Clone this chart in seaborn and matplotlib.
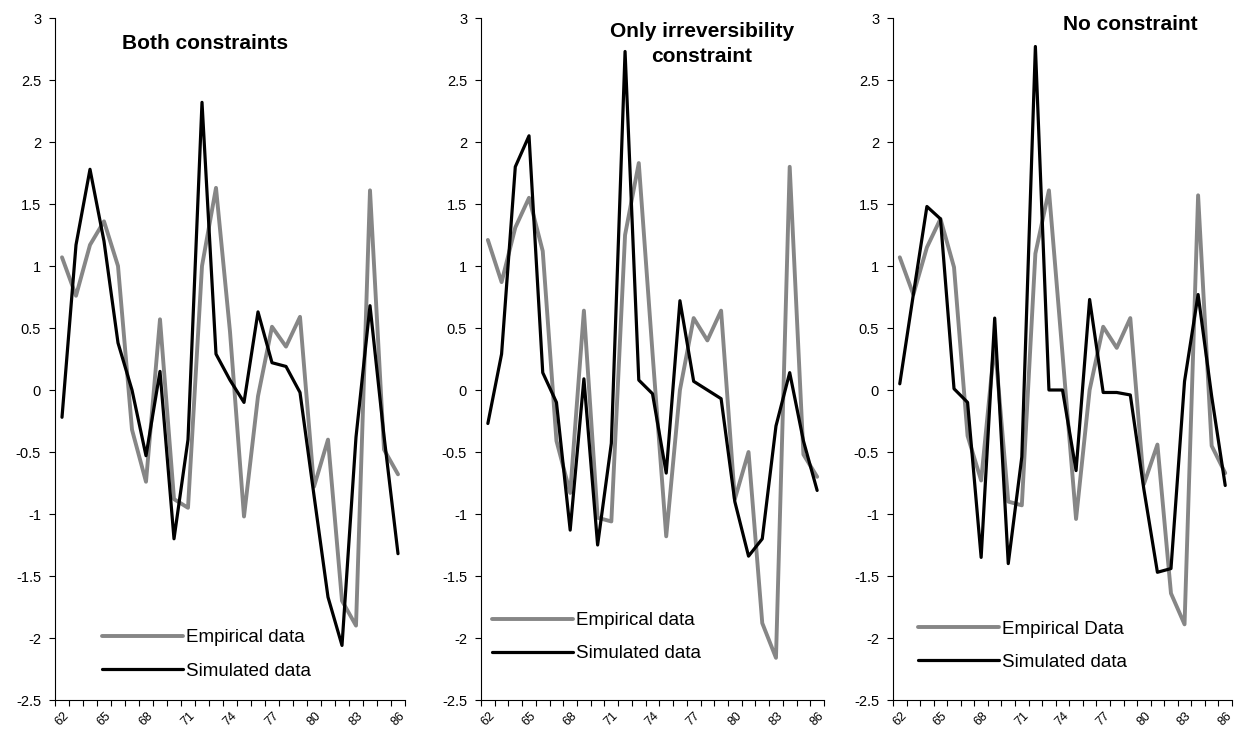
import matplotlib
matplotlib.use("Agg")
import matplotlib.pyplot as plt
import seaborn as sns
import numpy as np

# years 1962..1986, one value per year
years = list(range(62, 87))
year_labels = [str(y) for y in years[::3]]

emp_both = [1.07, 0.76, 1.17, 1.36, 1.0, -0.32, -0.74, 0.57, -0.88, -0.95,
            1.0, 1.63, 0.47, -1.02, -0.05, 0.51, 0.35, 0.59, -0.78, -0.4,
            -1.7, -1.9, 1.61, -0.48, -0.68]
sim_both = [-0.22, 1.17, 1.78, 1.2, 0.38, 0.0, -0.53, 0.15, -1.2, -0.4,
            2.32, 0.29, 0.08, -0.1, 0.63, 0.22, 0.19, -0.02, -0.85, -1.67,
            -2.06, -0.38, 0.68, -0.37, -1.32]

emp_irr = [1.21, 0.87, 1.31, 1.55, 1.12, -0.41, -0.83, 0.64, -1.03, -1.06,
           1.25, 1.83, 0.3, -1.18, 0.0, 0.58, 0.4, 0.64, -0.88, -0.5,
           -1.88, -2.16, 1.8, -0.52, -0.7]
sim_irr = [-0.27, 0.29, 1.8, 2.05, 0.14, -0.1, -1.13, 0.09, -1.25, -0.43,
           2.73, 0.08, -0.03, -0.67, 0.72, 0.07, 0.0, -0.07, -0.9, -1.34,
           -1.2, -0.29, 0.14, -0.41, -0.81]

emp_none = [1.07, 0.77, 1.15, 1.38, 0.99, -0.37, -0.73, 0.38, -0.9, -0.93,
            1.1, 1.61, 0.29, -1.04, 0.0, 0.51, 0.34, 0.58, -0.76, -0.44,
            -1.64, -1.89, 1.57, -0.45, -0.67]
sim_none = [0.05, 0.77, 1.48, 1.38, 0.01, -0.1, -1.35, 0.58, -1.4, -0.54,
            2.77, 0.0, 0.0, -0.65, 0.73, -0.02, -0.02, -0.04, -0.8, -1.47,
            -1.44, 0.07, 0.77, -0.05, -0.77]

titles = ["Both constraints", "Only irreversibility\nconstraint", "No constraint"]
emp_names = ["Empirical data", "Empirical data", "Empirical Data"]
panels = [(emp_both, sim_both), (emp_irr, sim_irr), (emp_none, sim_none)]

sns.set_style("white")
plt.rcParams['font.family'] = ['Liberation Sans', 'DejaVu Sans']
plt.rcParams['text.color'] = 'black'
plt.rcParams['xtick.color'] = 'black'
plt.rcParams['ytick.color'] = 'black'

fig = plt.figure(figsize=(12.39, 7.45), dpi=100)
lefts = [55, 481, 893]
widths = [350, 343, 339]
title_pos = [(0.43, 0.962), (0.644, 0.962), (0.699, 0.99)]
leg_pos = [(0.134, 0.03), (0.032, 0.055), (0.074, 0.043)]

idx = np.arange(len(years))
for k, (emp, sim) in enumerate(panels):
    ax = fig.add_axes([lefts[k] / 1239, 1 - 700 / 745, widths[k] / 1239, 682 / 745])
    sns.lineplot(x=idx, y=emp, ax=ax, color='#868686', lw=2.8, label=emp_names[k])
    sns.lineplot(x=idx, y=sim, ax=ax, color='black', lw=2.3, label='Simulated data')

    ax.set_xlim(-0.5, len(years) - 0.5)
    ax.set_ylim(-2.5, 3)
    ax.set_yticks(np.arange(-2.5, 3.01, 0.5))
    ax.set_yticklabels([f"{v:g}" for v in np.arange(-2.5, 3.01, 0.5)], fontsize=10.5)

    # category boundaries as tick marks, labels centred in category
    ax.set_xticks(np.arange(-0.5, len(years), 1))
    ax.set_xticklabels([])
    ax.set_xticks(idx[::3], minor=True)
    ax.set_xticklabels(year_labels, minor=True, rotation=45, fontsize=9)
    ax.tick_params(axis='x', which='minor', bottom=True, length=0, pad=7)
    ax.tick_params(axis='x', which='major', bottom=True, length=4, width=0.8,
                   direction='out', color='black')
    ax.tick_params(axis='y', left=True, length=4, width=0.8, direction='out',
                   color='black', pad=6)
    ax.set_xlabel('')
    ax.set_ylabel('')

    for s in ['top', 'right']:
        ax.spines[s].set_visible(False)
    for s in ['left', 'bottom']:
        ax.spines[s].set_color('black')
        ax.spines[s].set_linewidth(0.8)

    ax.text(title_pos[k][0], title_pos[k][1], titles[k], transform=ax.transAxes,
            ha='center', va='center', fontsize=15, fontweight='bold',
            color='black', linespacing=1.45)

    ax.legend(loc='lower left', bbox_to_anchor=leg_pos[k], frameon=False, fontsize=13.5,
              handlelength=4.3, handletextpad=0.2, labelspacing=0.85, borderpad=0,
              borderaxespad=0)

fig.savefig('out.png', dpi=100)
